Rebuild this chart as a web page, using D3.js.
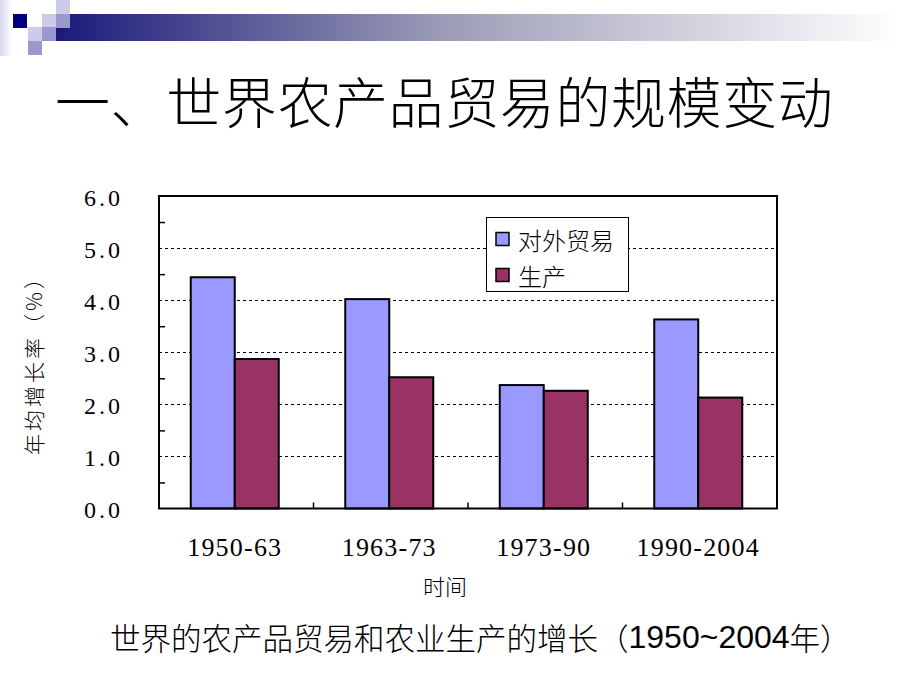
<!DOCTYPE html>
<html>
<head>
<meta charset="utf-8">
<script src="https://cdn.jsdelivr.net/npm/d3@7"></script>
<style>
  html, body { margin: 0; padding: 0; background: #fff; }
  svg { display: block; }
</style>
</head>
<body>
<svg id="chart" width="920" height="690"></svg>
<script>
// ---- data ----
const categories = ["1950-63", "1963-73", "1973-90", "1990-2004"];
const seriesNames = ["对外贸易", "生产"];
const tradeGrowth = [4.44, 4.02, 2.37, 3.63];
const productionGrowth = [2.87, 2.52, 2.26, 2.13];
const yTickValues = [0, 1, 2, 3, 4, 5, 6];
const yMinorTicks = [0.5, 1.5, 2.5, 3.5, 4.5, 5.5];
const titleText = "一、世界农产品贸易的规模变动";
const yAxisTitle = "年均增长率（%）";
const xAxisTitle = "时间";

const seriesValues = [tradeGrowth, productionGrowth];
const colors = ["#9999FF", "#993366"];

const svg = d3.select("#chart");
const cjk = "'Noto Sans CJK SC', 'Noto Sans', sans-serif";
const serif = "'Liberation Serif', 'DejaVu Serif', serif";

// ---- decoration (top-left squares + gradient bar) ----
const defs = svg.append("defs");
const grad = defs.append("linearGradient").attr("id", "barGrad").attr("x1", "0").attr("x2", "1");
grad.append("stop").attr("offset", "0").attr("stop-color", "#1a1a7a");
grad.append("stop").attr("offset", "0.45").attr("stop-color", "#9a9ab6");
grad.append("stop").attr("offset", "1").attr("stop-color", "#ffffff");
const gradL = defs.append("linearGradient").attr("id", "leftGrad").attr("x1", "0").attr("x2", "1");
gradL.append("stop").attr("offset", "0").attr("stop-color", "#d8d8ee");
gradL.append("stop").attr("offset", "1").attr("stop-color", "#ffffff");

svg.append("rect").attr("x", 0).attr("y", 0).attr("width", 12).attr("height", 56).attr("fill", "url(#leftGrad)");
svg.append("rect").attr("x", 56).attr("y", 14).attr("width", 844).attr("height", 27).attr("fill", "url(#barGrad)");
const squares = [
  [56, 0, "#ccccea"],
  [13, 14, "#000080"],
  [42, 14, "#ccccea"],
  [56, 14, "#9999cc"],
  [28, 27, "#ccccea"],
  [42, 27, "#9999cc"],
  [28, 41, "#9999cc"]
];
svg.selectAll("rect.sq").data(squares).enter().append("rect")
  .attr("class", "sq")
  .attr("x", d => d[0]).attr("y", d => d[1])
  .attr("width", 14).attr("height", 14)
  .attr("fill", d => d[2]);

// ---- title ----
svg.append("text")
  .attr("x", 55).attr("y", 99)
  .attr("dominant-baseline", "central")
  .attr("font-family", cjk)
  .attr("font-size", 55)
  .attr("font-weight", 300)
  .attr("letter-spacing", 0.6)
  .attr("fill", "#000")
  .text(titleText);

// ---- scales ----
const plot = { left: 159, right: 777, top: 196, bottom: 508.5 };
const y = d3.scaleLinear().domain([0, 6]).range([plot.bottom, plot.top]);
const x0 = d3.scaleBand().domain(categories).range([plot.left, plot.right]);
const groupW = 88;
const x1 = d3.scaleBand().domain(seriesNames).range([0, groupW]);

// ---- gridlines ----
svg.append("g").selectAll("line").data([1, 2, 3, 4, 5]).enter().append("line")
  .attr("x1", plot.left).attr("x2", plot.right)
  .attr("y1", d => Math.round(y(d)) + 0.5).attr("y2", d => Math.round(y(d)) + 0.5)
  .attr("stroke", "#000").attr("stroke-width", 1)
  .attr("stroke-dasharray", "3,3");

// ---- bars ----
const groups = svg.append("g").selectAll("g").data(categories).enter().append("g")
  .attr("transform", (c) => `translate(${x0(c) + (x0.bandwidth() - groupW) / 2 - 1.5},0)`);
groups.selectAll("rect").data((c, i) => seriesNames.map((s, k) => ({ s, k, v: seriesValues[k][i] })))
  .enter().append("rect")
  .attr("x", d => x1(d.s))
  .attr("width", x1.bandwidth())
  .attr("y", d => y(d.v))
  .attr("height", d => y(0) - y(d.v))
  .attr("fill", d => colors[d.k])
  .attr("stroke", "#000").attr("stroke-width", 2);

// ---- legend ----
const lg = svg.append("g");
lg.append("rect").attr("x", 486.5).attr("y", 217.5).attr("width", 142).attr("height", 74)
  .attr("fill", "#fff").attr("stroke", "#000").attr("stroke-width", 1);
seriesNames.forEach((s, k) => {
  const cy = 239 + k * 36;
  lg.append("rect").attr("x", 496).attr("y", cy - 6.5).attr("width", 13).attr("height", 13)
    .attr("fill", colors[k]).attr("stroke", "#000").attr("stroke-width", 1.5);
  lg.append("text").attr("x", 518).attr("y", cy)
    .attr("dominant-baseline", "central")
    .attr("font-family", cjk).attr("font-size", 24).attr("font-weight", 300).attr("fill", "#000")
    .text(s);
});

// ---- y axis: minor/major ticks (inside) ----
const yTicks = svg.append("g").attr("transform", `translate(${plot.left},0)`)
  .call(d3.axisLeft(y).tickValues(yMinorTicks).tickSize(-6).tickFormat(""));
yTicks.select(".domain").remove();
yTicks.selectAll("line").attr("stroke", "#000").attr("stroke-width", 1.5);

// ---- y axis labels ----
const yLab = svg.append("g").attr("transform", `translate(${plot.left},0)`)
  .call(d3.axisLeft(y).tickValues(yTickValues).tickSize(0).tickPadding(36).tickFormat(d3.format(".1f")));
yLab.select(".domain").remove();
yLab.selectAll("text")
  .attr("font-family", serif).attr("font-size", 24)
  .attr("letter-spacing", 3)
  .attr("fill", "#000")
  .attr("dy", "0.38em");

// ---- x axis category ticks (pointing up) ----
const xTickPos = categories.slice(1).map(c => x0(c));
svg.append("g").selectAll("line").data(xTickPos).enter().append("line")
  .attr("x1", d => d).attr("x2", d => d)
  .attr("y1", plot.bottom).attr("y2", plot.bottom - 6)
  .attr("stroke", "#000").attr("stroke-width", 1.5);

// ---- x labels ----
const xLab = svg.append("g").attr("transform", `translate(0,${plot.bottom})`)
  .call(d3.axisBottom(x0).tickSize(0).tickPadding(0));
xLab.select(".domain").remove();
xLab.selectAll("text")
  .attr("font-family", serif).attr("font-size", 26)
  .attr("letter-spacing", 1.2)
  .attr("fill", "#000")
  .attr("y", 39).attr("dy", 0)
  .attr("dominant-baseline", "central")
  .attr("transform", "translate(-1.5,0)");

// ---- plot frame ----
svg.append("rect")
  .attr("x", plot.left).attr("y", plot.top)
  .attr("width", plot.right - plot.left).attr("height", plot.bottom - plot.top)
  .attr("fill", "none").attr("stroke", "#000").attr("stroke-width", 2);

// ---- axis titles ----
svg.append("text")
  .attr("transform", "translate(33,360) rotate(-90)")
  .attr("text-anchor", "middle").attr("dominant-baseline", "central")
  .attr("font-family", cjk).attr("font-size", 21).attr("font-weight", 300).attr("letter-spacing", 3)
  .attr("fill", "#000")
  .text(yAxisTitle);

svg.append("text")
  .attr("x", 445).attr("y", 585)
  .attr("text-anchor", "middle").attr("dominant-baseline", "central")
  .attr("font-family", cjk).attr("font-size", 22).attr("font-weight", 300)
  .attr("fill", "#000")
  .text(xAxisTitle);

// ---- caption ----
const cap = svg.append("text")
  .attr("x", 110).attr("y", 637)
  .attr("dominant-baseline", "central")
  .attr("font-family", cjk).attr("font-size", 30.5).attr("font-weight", 300)
  .attr("fill", "#000");
cap.append("tspan").text("世界的农产品贸易和农业生产的增长（");
cap.append("tspan").attr("font-family", "'Liberation Sans', Arial, sans-serif").attr("font-weight", 400).attr("font-size", 32).text("1950~2004");
cap.append("tspan").text("年）");
</script>
</body>
</html>
